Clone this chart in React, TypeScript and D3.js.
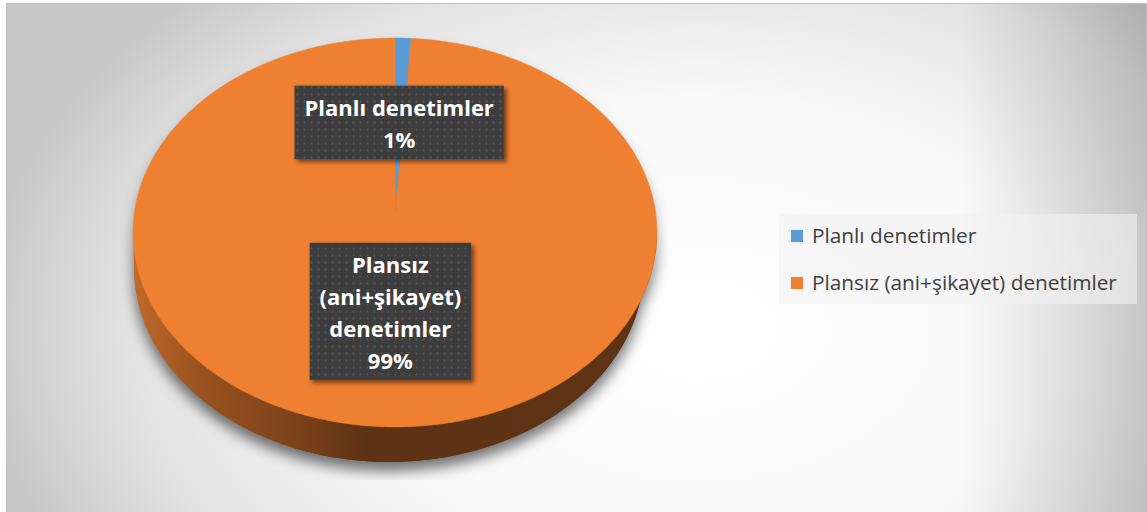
import React, { useEffect, useRef } from 'react';
import * as d3 from 'd3';

const categories = ['Planlı denetimler', 'Plansız (ani+şikayet) denetimler'];
const values = [1.1, 98.9];
const colors = ['#5B9BD5', '#EF7F31'];

const W = 1147;
const H = 512;

const geo = { cx: 395, cy: 212, a: 260.5, b: 192.3, m: 0.1054, depth: 35, dx: -6, da: -7 };

function proj(theta: number, r: number, z: number): [number, number] {
  const u = r * Math.sin(theta);
  const v = -r * Math.cos(theta);
  const w = 1 - geo.m * v;
  const X0 = geo.cx + geo.dx * z;
  const Y0 = geo.cy + geo.depth * z;
  const a = geo.a + geo.da * z;
  return [X0 + (a * u) / w, Y0 + (geo.b * v) / w];
}

function samples(a0: number, a1: number, r: number, z: number): [number, number][] {
  const n = Math.max(2, Math.ceil(Math.abs(a1 - a0) / 0.01));
  const pts: [number, number][] = [];
  for (let i = 0; i <= n; i++) pts.push(proj(a0 + ((a1 - a0) * i) / n, r, z));
  return pts;
}

function wrap(text: string, max: number): string[] {
  const words = text.split(' ');
  const lines: string[] = [];
  let cur = '';
  for (const w of words) {
    const t = cur ? cur + ' ' + w : w;
    if (t.length > max && cur) {
      lines.push(cur);
      cur = w;
    } else cur = t;
  }
  if (cur) lines.push(cur);
  return lines;
}

const FONT = '"Open Sans", Lato, "Noto Sans", sans-serif';

export default function App() {
  const ref = useRef<SVGSVGElement>(null);
  useEffect(() => {
    const svg = d3.select(ref.current);
    svg.selectAll('*').remove();
    const defs = svg.append('defs');

    const bg = defs
      .append('radialGradient')
      .attr('id', 'bg')
      .attr('gradientUnits', 'userSpaceOnUse')
      .attr('cx', 700)
      .attr('cy', 330)
      .attr('r', 720)
      .attr('gradientTransform', 'translate(700,330) scale(1,0.653) translate(-700,-330)');
    [
      [0, '#ffffff'],
      [0.5, '#f8f8f8'],
      [0.8, '#e2e2e2'],
      [1, '#c8c8c8'],
    ].forEach(([o, c]) => bg.append('stop').attr('offset', o as number).attr('stop-color', c as string));

    const rg = defs
      .append('linearGradient')
      .attr('id', 'rightShade')
      .attr('gradientUnits', 'userSpaceOnUse')
      .attr('x1', 960)
      .attr('x2', 1147)
      .attr('y1', 0)
      .attr('y2', 0);
    rg.append('stop').attr('offset', 0).attr('stop-color', '#000').attr('stop-opacity', 0);
    rg.append('stop').attr('offset', 1).attr('stop-color', '#000').attr('stop-opacity', 0.17);

    const sg = defs
      .append('linearGradient')
      .attr('id', 'side')
      .attr('gradientUnits', 'userSpaceOnUse')
      .attr('x1', 133)
      .attr('x2', 660)
      .attr('y1', 0)
      .attr('y2', 0);
    [
      [0, '#c06a2a'],
      [(200 - 133) / 527, '#99521f'],
      [(300 - 133) / 527, '#7a4119'],
      [(365 - 133) / 527, '#5e3215'],
      [1, '#5e3416'],
    ].forEach(([o, c]) => sg.append('stop').attr('offset', o as number).attr('stop-color', c as string));

    const blur = defs.append('filter').attr('id', 'pieShadow').attr('x', -0.2).attr('y', -0.2).attr('width', 1.4).attr('height', 1.4);
    blur.append('feGaussianBlur').attr('stdDeviation', 7);

    const ds = defs.append('filter').attr('id', 'boxShadow').attr('x', -0.2).attr('y', -0.2).attr('width', 1.4).attr('height', 1.4);
    ds.append('feDropShadow').attr('dx', 3).attr('dy', 3).attr('stdDeviation', 2).attr('flood-color', '#000').attr('flood-opacity', 0.5);

    const pat = defs
      .append('pattern')
      .attr('id', 'dots')
      .attr('patternUnits', 'userSpaceOnUse')
      .attr('width', 7)
      .attr('height', 7);
    pat.append('rect').attr('width', 7).attr('height', 7).attr('fill', '#3e3e3e');
    pat.append('circle').attr('cx', 3.5).attr('cy', 3.5).attr('r', 0.9).attr('fill', '#575757');

    defs.append('clipPath').attr('id', 'plotClip').append('rect').attr('x', 120).attr('y', 0).attr('width', 548).attr('height', 480);

    // background
    svg.append('rect').attr('x', 6).attr('y', 3).attr('width', 1141).attr('height', 520).attr('fill', 'url(#bg)');
    svg.append('rect').attr('x', 6).attr('y', 3).attr('width', 1141).attr('height', 520).attr('fill', 'url(#rightShade)');
    svg
      .append('rect')
      .attr('x', 6.5)
      .attr('y', 3.5)
      .attr('width', 1140)
      .attr('height', 530)
      .attr('fill', 'none')
      .attr('stroke', '#bdbdbd');

    const arcs = d3.pie<number>().sort(null).value((d) => d)(values);
    const line = d3.line<[number, number]>().curve(d3.curveLinear);

    const visA = Math.acos(-geo.m);
    const visB = 2 * Math.PI - visA;

    const fullTop = line(samples(0, 2 * Math.PI, 1, 0))! + 'Z';
    const fullBottom = line(samples(0, 2 * Math.PI, 1, 1))! + 'Z';
    const fullSide = line([...samples(visA, visB, 1, 0), ...samples(visB, visA, 1, 1)])! + 'Z';

    // shadow
    const sh = svg.append('g').attr('clip-path', 'url(#plotClip)');
    const shg = sh.append('g').attr('filter', 'url(#pieShadow)').attr('transform', 'translate(0,9)');
    [fullTop, fullBottom, fullSide].forEach((p) => shg.append('path').attr('d', p).attr('fill', '#000').attr('fill-opacity', 0.33));

    // sides
    const g = svg.append('g');
    g.append('path').attr('d', fullBottom).attr('fill', 'url(#side)');
    arcs.forEach((a) => {
      const s = Math.max(a.startAngle, visA);
      const e = Math.min(a.endAngle, visB);
      if (e <= s) return;
      const pts = [...samples(s, e, 1, 0), ...samples(e, s, 1, 1)];
      g.append('path').attr('d', line(pts)! + 'Z').attr('fill', 'url(#side)');
    });

    // top faces
    arcs.forEach((a, i) => {
      const pts = [proj(0, 0, 0), ...samples(a.startAngle, a.endAngle, 1, 0)];
      g.append('path')
        .attr('d', line(pts)! + 'Z')
        .attr('fill', colors[i])
        .attr('stroke', colors[i])
        .attr('stroke-width', 0.5);
    });

    // labels
    const total = d3.sum(values);
    arcs.forEach((a, i) => {
      const mid = (a.startAngle + a.endAngle) / 2;
      const [lx, ly] = proj(mid, 0.49, 0);
      const lines = [...wrap(categories[i], 17), `${Math.round((values[i] / total) * 100)}%`];
      const lh = 31.8;
      const hgt = lines.length * lh + 10;
      const top = ly - hgt / 2;
      const lg = svg.append('g');
      const rect = lg.append('rect').attr('fill', 'url(#dots)').attr('filter', 'url(#boxShadow)');
      const txt = lg
        .append('text')
        .attr('text-anchor', 'middle')
        .attr('font-family', FONT)
        .attr('font-weight', 700)
        .attr('font-size', 22)
        .attr('fill', '#ffffff');
      let maxW = 0;
      lines.forEach((l, j) => {
        const t = txt
          .append('tspan')
          .attr('x', lx)
          .attr('y', top + 30.5 + j * lh)
          .text(l);
        const wdt = (t.node() as SVGTextContentElement).getComputedTextLength();
        maxW = Math.max(maxW, wdt);
      });
      const bw = maxW + 20;
      rect.attr('x', lx - bw / 2).attr('y', top).attr('width', bw).attr('height', hgt);
    });

    // legend
    const leg = svg.append('g');
    leg
      .append('rect')
      .attr('x', 779)
      .attr('y', 214)
      .attr('width', 358)
      .attr('height', 90)
      .attr('fill', '#f2f2f2')
      .attr('fill-opacity', 0.6);
    categories.forEach((c, i) => {
      leg
        .append('rect')
        .attr('x', 791)
        .attr('y', 230 + i * 47)
        .attr('width', 12)
        .attr('height', 12)
        .attr('fill', colors[i]);
      leg
        .append('text')
        .attr('x', 812)
        .attr('y', 243 + i * 47)
        .attr('font-family', FONT)
        .attr('font-size', 20.8)
        .attr('fill', '#404040')
        .text(c);
    });
  }, []);

  return (
    <svg
      ref={ref}
      width={W}
      height={H}
      style={{ position: 'absolute', left: 0, top: 0, display: 'block' }}
    />
  );
}
